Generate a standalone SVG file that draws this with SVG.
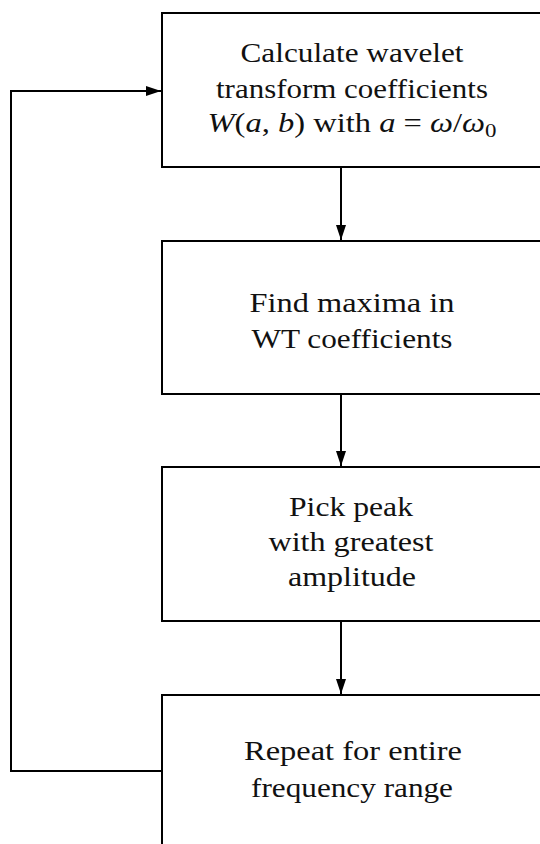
<svg xmlns="http://www.w3.org/2000/svg" width="540" height="844" viewBox="0 0 540 844">
<style>
.box{fill:#fff;stroke:#000;stroke-width:2}
.t{font-family:"Liberation Serif","Times New Roman",serif;font-size:27px;fill:#111;text-anchor:middle}
.i{font-style:italic}
.c{fill:none;stroke:#000;stroke-width:2}
</style>
<defs>
<marker id="ah" markerUnits="userSpaceOnUse" markerWidth="16" markerHeight="11" refX="15" refY="5" orient="auto">
<path d="M0,0 L15,5 L0,10 z" fill="#000"/>
</marker>
</defs>
<rect width="540" height="844" fill="#fff"/>
<g id="n1">
<rect class="box" x="162" y="13" width="390" height="154"/>
<text class="t" x="352" y="62" textLength="223" lengthAdjust="spacingAndGlyphs">Calculate wavelet</text>
<text class="t" x="352" y="98" textLength="272" lengthAdjust="spacingAndGlyphs">transform coefficients</text>
<text class="t" x="352" y="132" textLength="289" lengthAdjust="spacingAndGlyphs"><tspan class="i">W</tspan>(<tspan class="i">a</tspan>, <tspan class="i">b</tspan>) with <tspan class="i">a</tspan> = <tspan class="i">ω</tspan>/<tspan class="i">ω</tspan><tspan font-size="19" dy="5">0</tspan></text>
</g>
<g id="n2">
<rect class="box" x="162" y="241" width="390" height="153"/>
<text class="t" x="352" y="312" textLength="205" lengthAdjust="spacingAndGlyphs">Find maxima in</text>
<text class="t" x="352" y="348" textLength="201" lengthAdjust="spacingAndGlyphs">WT coefficients</text>
</g>
<g id="n3">
<rect class="box" x="162" y="467" width="390" height="154"/>
<text class="t" x="351" y="516" textLength="124" lengthAdjust="spacingAndGlyphs">Pick peak</text>
<text class="t" x="351" y="551" textLength="165" lengthAdjust="spacingAndGlyphs">with greatest</text>
<text class="t" x="352" y="586" textLength="128" lengthAdjust="spacingAndGlyphs">amplitude</text>
</g>
<g id="n4">
<rect class="box" x="162" y="695" width="390" height="170"/>
<text class="t" x="353" y="760" textLength="218" lengthAdjust="spacingAndGlyphs">Repeat for entire</text>
<text class="t" x="352" y="797" textLength="202" lengthAdjust="spacingAndGlyphs">frequency range</text>
</g>
<g id="connectors">
<line class="c" x1="341" y1="167" x2="341" y2="240" marker-end="url(#ah)"/>
<line class="c" x1="341" y1="394" x2="341" y2="466" marker-end="url(#ah)"/>
<line class="c" x1="341" y1="621" x2="341" y2="694" marker-end="url(#ah)"/>
<polyline class="c" points="162,771 11,771 11,91 161,91" marker-end="url(#ah)"/>
</g>
</svg>
